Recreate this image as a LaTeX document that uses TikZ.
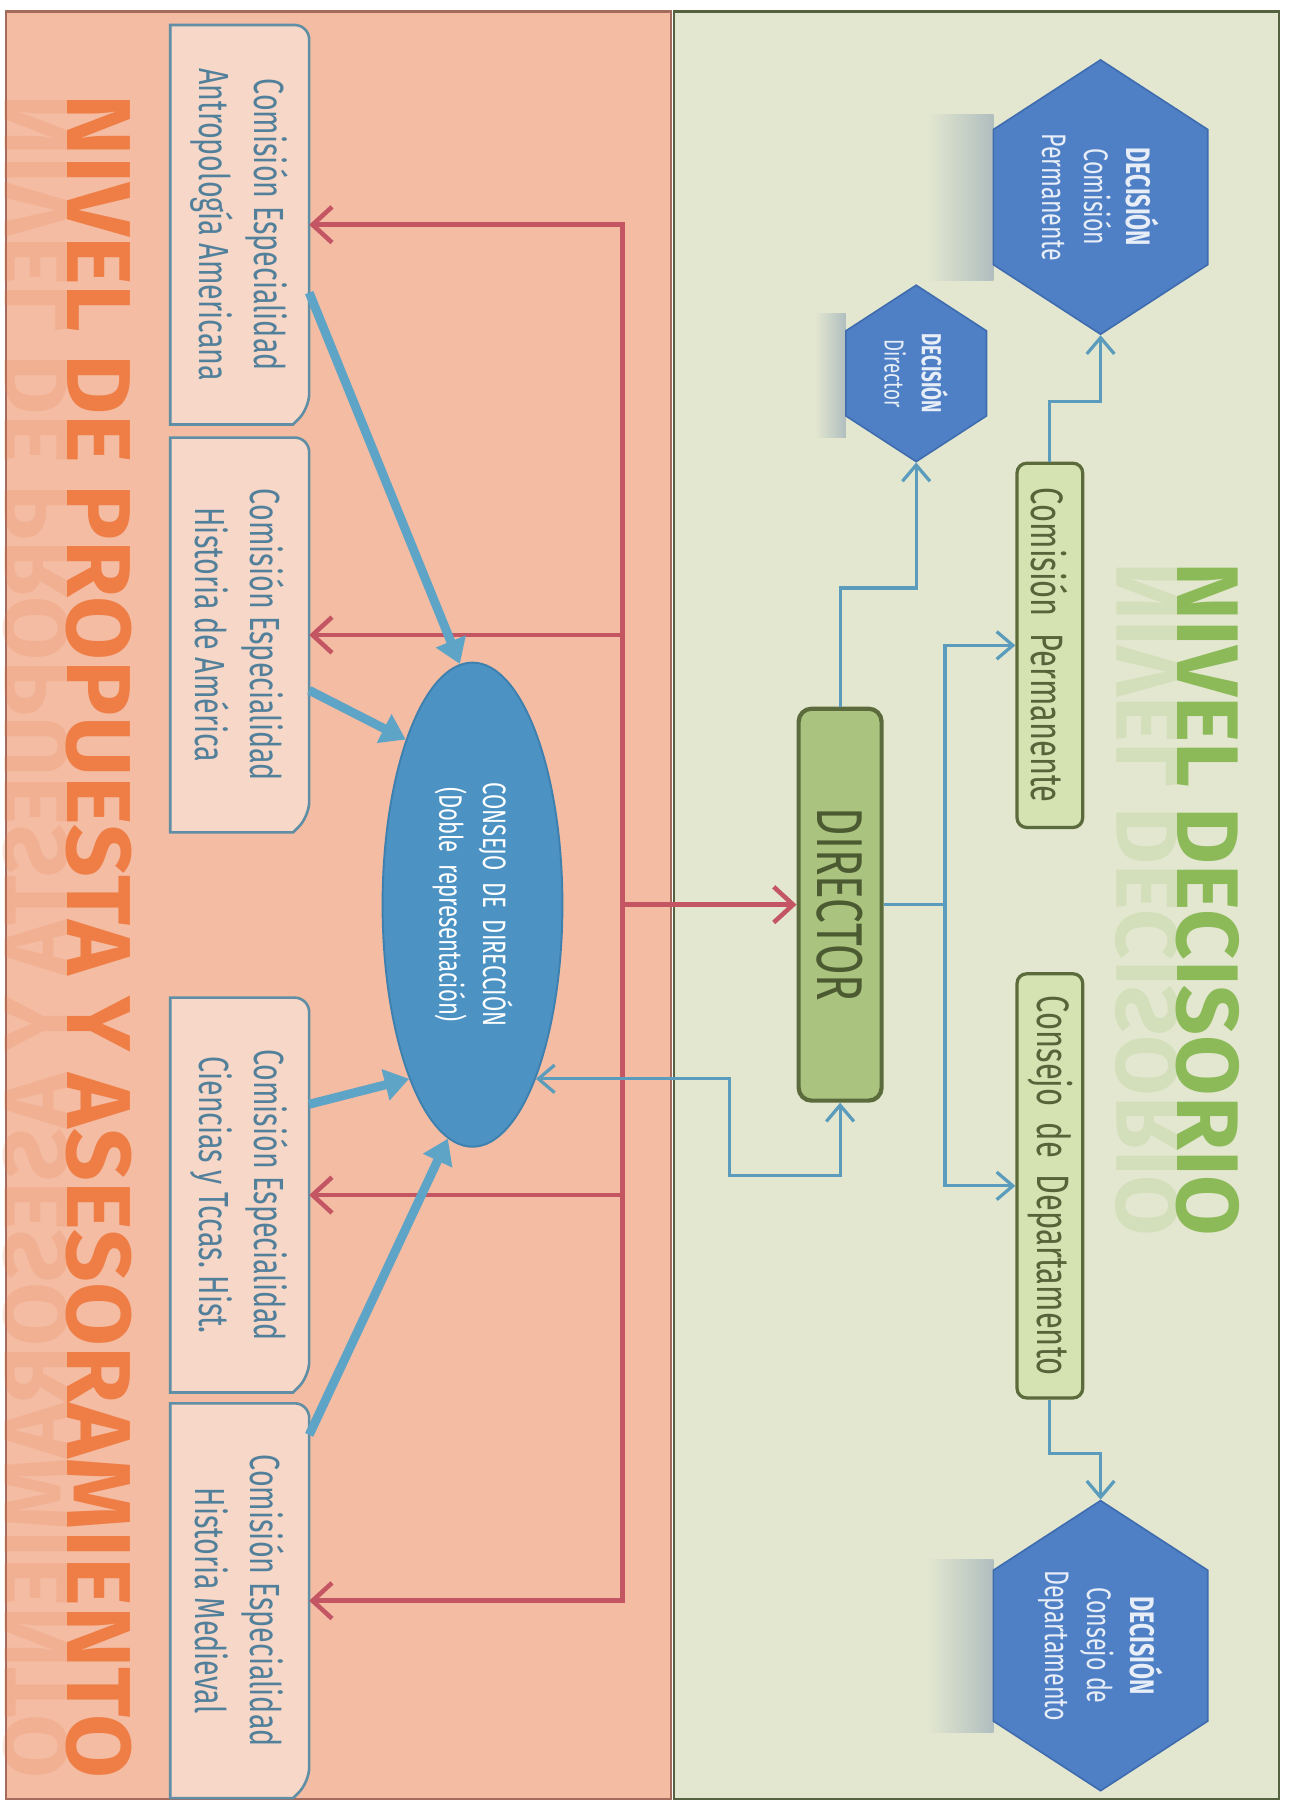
\documentclass[tikz,border=0pt]{standalone}
\usepackage{fontspec}
\newfontfamily\condf[FakeStretch=0.68]{Fira Sans}
\newfontfamily\titlep[FakeStretch=1.02]{Fira Sans}
\newfontfamily\titled{Fira Sans}
\usetikzlibrary{arrows.meta,calc,shapes.geometric,shapes.symbols}

\definecolor{pinkbg}{HTML}{F3BCA3}
\definecolor{greenbg}{HTML}{E3E7D0}
\definecolor{pinkframe}{HTML}{A26B5C}
\definecolor{greenframe}{HTML}{56623F}
\definecolor{boxfill}{HTML}{F7D8C8}
\definecolor{boxline}{HTML}{5F8EA5}
\definecolor{boxtext}{HTML}{52809B}
\definecolor{redc}{HTML}{C45563}
\definecolor{bluec}{HTML}{5B9CBC}
\definecolor{thickc}{HTML}{5EA4C7}
\definecolor{consfill}{HTML}{4C93C4}
\definecolor{consline}{HTML}{3E80AE}
\definecolor{hexfill}{HTML}{4F80C5}
\definecolor{hexline}{HTML}{3F6CAE}
\definecolor{hextext}{HTML}{E8EEF8}
\definecolor{hexshadow}{HTML}{B0BEBF}
\definecolor{dirfill}{HTML}{AAC37F}
\definecolor{dirline}{HTML}{5C6B3C}
\definecolor{dirtext}{HTML}{4C5A32}
\definecolor{levfill}{HTML}{D5E2B2}
\definecolor{levtext}{HTML}{56643A}
\definecolor{orangec}{HTML}{EF7E46}
\definecolor{greent}{HTML}{8CBA58}

\pgfdeclarelayer{back}
\pgfsetlayers{back,main}

\tikzset{
  combox/.style={rotate=-90, minimum width=8.55cm, minimum height=3cm, inner sep=0pt,
    align=center, text=boxtext, font=\condf\fontsize{26pt}{34pt}\selectfont},
  comline/.style={fill=boxfill, draw=boxline, line width=1.6pt},
  consejo/.style={ellipse, rotate=-90, minimum width=10.5cm, minimum height=3.9cm, inner sep=0pt,
    fill=consfill, draw=consline, line width=1.2pt, align=center, text=white,
    font=\condf\fontsize{20pt}{27pt}\selectfont},
  dirbox/.style={rectangle, rounded corners=8pt, rotate=-90, minimum width=8.5cm, minimum height=1.8cm,
    fill=dirfill, draw=dirline, line width=2.6pt, text=dirtext, font=\condf\fontsize{40pt}{40pt}\selectfont},
  levbox/.style={rectangle, rounded corners=6pt, rotate=-90, minimum height=1.425cm,
    fill=levfill, draw=dirline, line width=2pt, text=levtext, font=\condf\fontsize{28pt}{28pt}\selectfont},
  hexa/.style={signal, signal to=east and west, signal pointer angle=114, rotate=-90,
    minimum width=5.95cm, minimum height=4.65cm, inner sep=0pt, fill=hexfill, draw=hexline,
    line width=1pt, align=center, text=hextext, font=\condf\fontsize{21pt}{26pt}\selectfont},
  redarr/.style={draw=redc, line width=2.8pt, -{Straight Barb[length=12pt,width=22pt]}},
  bluearr/.style={draw=bluec, line width=2pt, -{Straight Barb[length=10pt,width=17pt]}},
  blueboth/.style={draw=bluec, line width=2pt,
    {Straight Barb[length=10pt,width=17pt]}-{Straight Barb[length=10pt,width=17pt]}},
  thickarr/.style={draw=thickc, line width=5.5pt, -{Triangle[length=15pt,width=19pt]}},
  titlebase/.style={rotate=-90, anchor=base west, inner sep=0pt},
}

\begin{document}
\begin{tikzpicture}[x=0.025cm, y=-0.025cm]
\useasboundingbox (0,0) rectangle (1118,1568);

\begin{pgfonlayer}{back}
\fill[white] (0,0) rectangle (1118,1568);
\filldraw[fill=pinkbg, draw=pinkframe, line width=1.5pt] (5,10) rectangle (582,1561);
\filldraw[fill=greenbg, draw=greenframe, line width=1.5pt] (585,10) rectangle (1110,1561);
\end{pgfonlayer}

% titles with their reflection
\node[titlebase, text=orangec, font=\titlep\bfseries\fontsize{56pt}{56pt}\selectfont] (tprop) at (59,82) {NIVEL DE PROPUESTA Y ASESORAMIENTO};
\node[titlebase, text=orangec, font=\titlep\bfseries\fontsize{56pt}{56pt}\selectfont, yscale=-1, opacity=.18] at (59,82) {NIVEL DE PROPUESTA Y ASESORAMIENTO};
\node[titlebase, text=greent, font=\titled\bfseries\fontsize{54pt}{54pt}\selectfont] (tdec) at (1022,488) {NIVEL DECISORIO};
\node[titlebase, text=greent, font=\titled\bfseries\fontsize{54pt}{54pt}\selectfont, yscale=-1, opacity=.18] at (1022,488) {NIVEL DECISORIO};

% nivel de propuesta
\node[combox, minimum width=8.65cm] (ca) at (208,195) {Comisión\ Especialidad\\Antropología\ Americana};
\node[combox] (cb) at (208,551) {Comisión\ Especialidad\\Historia\ de\ América};
\node[combox] (cc) at (208,1037) {Comisión\ Especialidad\\Ciencias\ y\ Tccas.\ Hist.};
\node[combox] (cd) at (208,1389) {Comisión\ Especialidad\\Historia\ Medieval};
\node[consejo] (cons) at (410,785) {CONSEJO\ \ DE\ \ DIRECCIÓN\\(Doble\ \ representación)};

% nivel decisorio
\node[dirbox] (dir) at (729,785) {DIRECTOR};
\node[levbox, minimum width=7.9cm] (cp) at (911,560) {Comisión\ \ Permanente};
\node[levbox, minimum width=9.2cm] (cdep) at (911,1029) {Consejo\ \ de\ \ Departamento};
\node[hexa] (hcp) at (955,171) {\textbf{DECISIÓN}\\Comisión\\Permanente};
\node[hexa, minimum width=3.825cm, minimum height=3.05cm, font=\condf\fontsize{17pt}{23pt}\selectfont] (hdir) at (795,324) {\textbf{DECISIÓN}\\Director};
\node[hexa, minimum width=5.825cm] (hdep) at (955,1428) {\textbf{DECISIÓN}\\Consejo de\\Departamento};

\begin{pgfonlayer}{back}
\foreach \b in {ca,cb,cc,cd}
  \draw[comline] (\b.south west) [rounded corners=9pt] -- (\b.north west) -- ($(\b.north east)+(0,-14)$)
    [sharp corners] -- ($(\b.north east)+(-14,0)$) -- (\b.south east) -- cycle;
\shade[left color=greenbg, right color=hexshadow] ($(hcp.center)+(-150,-72)$) rectangle ($(hcp.center)+(-93,72)$);
\shade[left color=greenbg, right color=hexshadow] ($(hdep.center)+(-150,-75)$) rectangle ($(hdep.center)+(-93,75)$);
\shade[left color=greenbg, right color=hexshadow] ($(hdir.center)+(-88,-52)$) rectangle ($(hdir.center)+(-61,56)$);
\end{pgfonlayer}

% red links
\coordinate (rt) at (540,0);
\draw[redarr] (rt |- cd.north) -- (rt |- ca.north) -- (ca.north);
\draw[redarr] (rt |- cc.north) -- (rt |- cd.north) -- (cd.north);
\foreach \b in {cb,cc}
  \draw[redarr] (rt |- \b.north) -- (\b.north);
\draw[redarr] (rt |- dir.south) -- (dir.south);

% thick blue links
\draw[thickarr] ($(ca.north west)!.67!(ca.north east)$) -- (cons.183);
\draw[thickarr] ($(cb.north west)!.64!(cb.north east)$) -- (cons.202);
\draw[thickarr] ($(cc.north west)!.27!(cc.north east)$) -- (cons.340);
\draw[thickarr] ($(cd.north west)!.08!(cd.north east)$) -- (cons.354);

% thin blue links
\coordinate (bt) at (820,0);
\coordinate (bk) at (633,1020);
\draw[bluec, line width=2pt] (dir.north) -- (bt |- dir.north);
\draw[bluearr] (bt |- dir.north) |- (cp.south);
\draw[bluearr] (bt |- dir.north) |- (cdep.south);
\draw[bluearr] (dir.west) -- ++(0,-103) -| (hdir.east);
\draw[bluearr] (cp.west) -- ++(0,-52) -| (hcp.east);
\draw[bluearr] (cdep.east) -- ++(0,47) -| (hdep.west);
\draw[blueboth] (cons.20) -- (cons.20 -| bk) -- (bk) -| (dir.east);
\end{tikzpicture}
\end{document}
